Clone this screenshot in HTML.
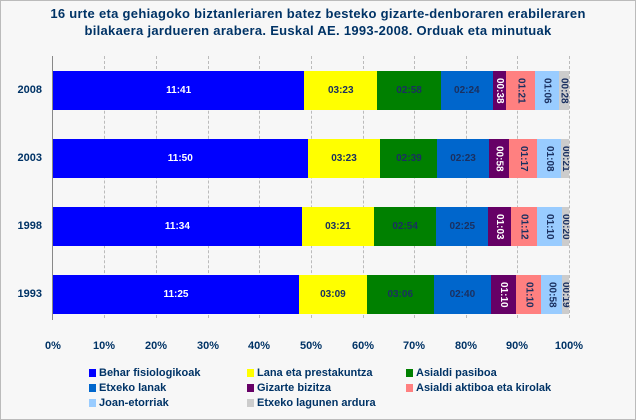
<!DOCTYPE html><html><head><style>
body{margin:0;width:636px;height:420px;overflow:hidden;font-family:"Liberation Sans",sans-serif;}
#c{position:absolute;left:0;top:0;width:634px;height:418px;border:1px solid #bbb;background:#f7f7f7;}
.t{position:absolute;left:0;top:5px;width:636px;text-align:center;font-size:13px;font-weight:bold;color:#003366;line-height:17px;letter-spacing:0.3px}
.g{position:absolute;top:56px;height:262px;border-left:1px dashed #bbb;width:0}
.bar{position:absolute;left:53px;width:516px;height:39px;display:flex}
.bar div{height:39px;display:flex;align-items:center;justify-content:center;font-size:10px;font-weight:bold;color:#1a3060;overflow:hidden}
.v{writing-mode:vertical-rl}
.yl{position:absolute;left:0;width:42px;text-align:right;font-size:11px;font-weight:bold;color:#003366}
.xl{position:absolute;top:340px;width:50px;margin-left:-25px;text-align:center;font-size:11px;font-weight:bold;color:#003366}
.lg{position:absolute;font-size:11px;font-weight:bold;color:#003366}
.lg i{display:inline-block;width:7px;height:8px;margin-right:3px;vertical-align:-1px}
</style></head><body><div id="c"></div>
<div class="t">16 urte eta gehiagoko biztanleriaren batez besteko gizarte-denboraren erabileraren<br>bilakaera jardueren arabera. Euskal AE. 1993-2008. Orduak eta minutuak</div>
<div class="g" style="left:104px"></div><div class="g" style="left:156px"></div><div class="g" style="left:208px"></div><div class="g" style="left:259px"></div><div class="g" style="left:311px"></div><div class="g" style="left:363px"></div><div class="g" style="left:414px"></div><div class="g" style="left:466px"></div><div class="g" style="left:517px"></div><div class="g" style="left:569px"></div>
<div style="position:absolute;left:52px;top:56px;width:1px;height:264px;background:#888"></div>
<div class="bar" style="top:71px">
<div style="flex:701;background:#0000ff;color:#fff">11:41</div><div style="flex:203;background:#ffff00">03:23</div><div style="flex:178;background:#008000">02:58</div><div style="flex:144;background:#0066cc">02:24</div><div class="v" style="flex:38;background:#660066;color:#fff">00:38</div><div class="v" style="flex:81;background:#ff8080">01:21</div><div class="v" style="flex:66;background:#99ccff">01:06</div><div class="v" style="flex:28;background:#ccc">00:28</div></div>
<div class="bar" style="top:139px">
<div style="flex:710;background:#0000ff;color:#fff">11:50</div><div style="flex:203;background:#ffff00">03:23</div><div style="flex:159;background:#008000">02:39</div><div style="flex:143;background:#0066cc">02:23</div><div class="v" style="flex:58;background:#660066;color:#fff">00:58</div><div class="v" style="flex:77;background:#ff8080">01:17</div><div class="v" style="flex:68;background:#99ccff">01:08</div><div class="v" style="flex:21;background:#ccc">00:21</div></div>
<div class="bar" style="top:207px">
<div style="flex:694;background:#0000ff;color:#fff">11:34</div><div style="flex:201;background:#ffff00">03:21</div><div style="flex:174;background:#008000">02:54</div><div style="flex:145;background:#0066cc">02:25</div><div class="v" style="flex:63;background:#660066;color:#fff">01:03</div><div class="v" style="flex:72;background:#ff8080">01:12</div><div class="v" style="flex:70;background:#99ccff">01:10</div><div class="v" style="flex:20;background:#ccc">00:20</div></div>
<div class="bar" style="top:275px">
<div style="flex:685;background:#0000ff;color:#fff">11:25</div><div style="flex:189;background:#ffff00">03:09</div><div style="flex:186;background:#008000">03:06</div><div style="flex:160;background:#0066cc">02:40</div><div class="v" style="flex:70;background:#660066;color:#fff">01:10</div><div class="v" style="flex:70;background:#ff8080">01:10</div><div class="v" style="flex:58;background:#99ccff">00:58</div><div class="v" style="flex:19;background:#ccc">00:19</div></div>
<div class="yl" style="top:84px">2008</div><div class="yl" style="top:152px">2003</div><div class="yl" style="top:220px">1998</div><div class="yl" style="top:288px">1993</div>
<div class="xl" style="left:53px">0%</div><div class="xl" style="left:104px">10%</div><div class="xl" style="left:156px">20%</div><div class="xl" style="left:208px">30%</div><div class="xl" style="left:259px">40%</div><div class="xl" style="left:311px">50%</div><div class="xl" style="left:363px">60%</div><div class="xl" style="left:414px">70%</div><div class="xl" style="left:466px">80%</div><div class="xl" style="left:517px">90%</div><div class="xl" style="left:569px">100%</div>
<div class="lg" style="left:89px;top:367px"><i style="background:#0000ff"></i>Behar fisiologikoak</div>
<div class="lg" style="left:247px;top:367px"><i style="background:#ffff00"></i>Lana eta prestakuntza</div>
<div class="lg" style="left:406px;top:367px"><i style="background:#008000"></i>Asialdi pasiboa</div>
<div class="lg" style="left:89px;top:382px"><i style="background:#0066cc"></i>Etxeko lanak</div>
<div class="lg" style="left:247px;top:382px"><i style="background:#660066"></i>Gizarte bizitza</div>
<div class="lg" style="left:406px;top:382px"><i style="background:#ff8080"></i>Asialdi aktiboa eta kirolak</div>
<div class="lg" style="left:89px;top:397px"><i style="background:#99ccff"></i>Joan-etorriak</div>
<div class="lg" style="left:247px;top:397px"><i style="background:#ccc"></i>Etxeko lagunen ardura</div>
</body></html>
